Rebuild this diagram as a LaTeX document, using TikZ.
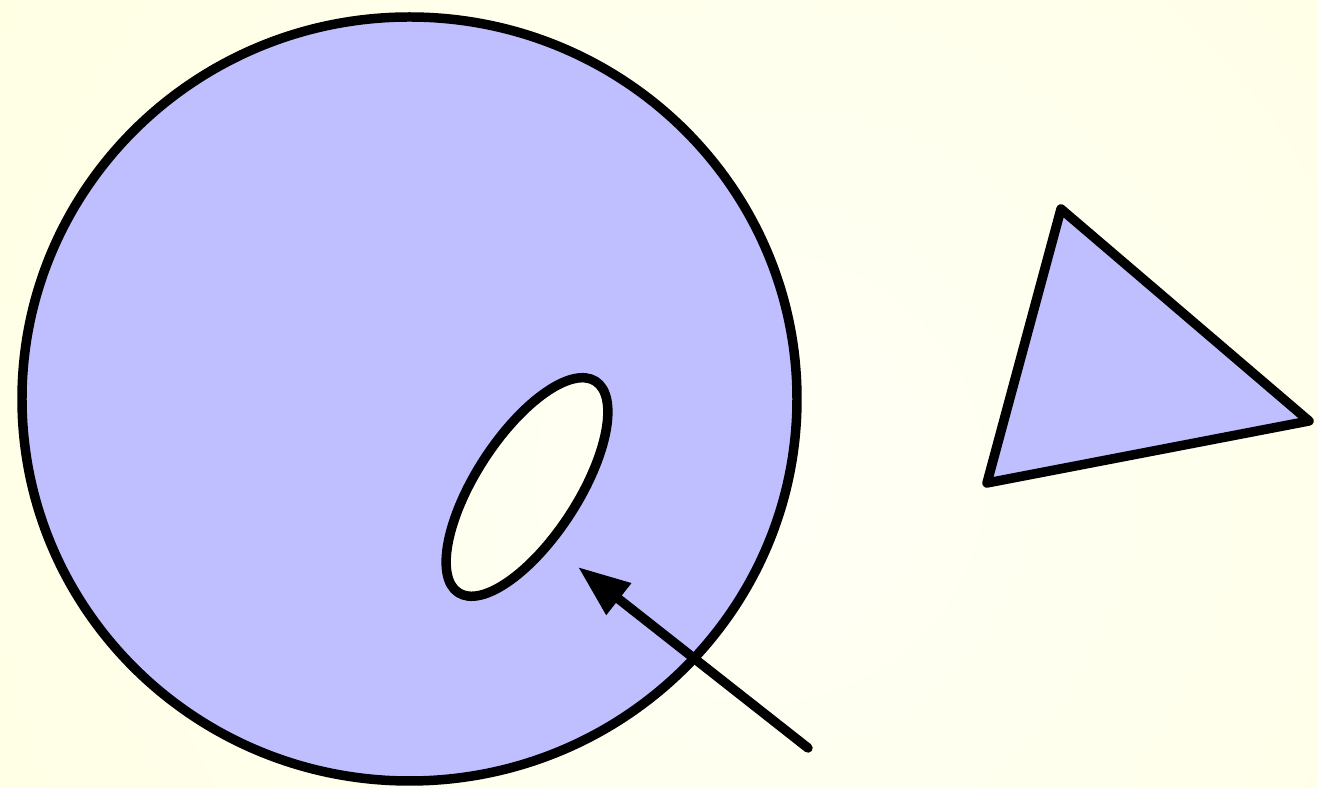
\documentclass[tikz,border=0pt]{standalone}
\usetikzlibrary{arrows.meta}

\definecolor{paper}{RGB}{255,255,218}
\definecolor{paperlight}{RGB}{255,255,246}
\definecolor{shapeblue}{RGB}{191,191,255}

\begin{document}
\begin{tikzpicture}[
  outline/.style={draw=black,line width=2.7pt,line join=round},
  body/.style={outline,fill=shapeblue},
  pointer/.style={-{Triangle[length=5.2mm,width=3.8mm]},draw=black,line width=2.7pt,line cap=round},
]

% background
\useasboundingbox (0,0) rectangle (13.18,7.88);
\fill[paper] (0,0) rectangle (13.18,7.88);
\begin{scope}
  \clip (0,0) rectangle (13.18,7.88);
  \shade[inner color=paperlight,outer color=paper] (7.6,3.1) circle (14);
\end{scope}

% disc with a hole
\draw[body,even odd rule] (4.095,3.89) ellipse [x radius=3.875,y radius=3.82]
  (5.27,3.01) ellipse [x radius=1.26,y radius=0.51,rotate=57];

% triangle
\draw[body] (10.61,5.79) -- (13.09,3.67) -- (9.87,3.05) -- cycle;

% arrow into the hole
\coordinate (tail) at (8.08,0.40);
\coordinate (tip) at (5.78,2.21);
\draw[pointer] (tail) -- (tip);

\end{tikzpicture}
\end{document}
